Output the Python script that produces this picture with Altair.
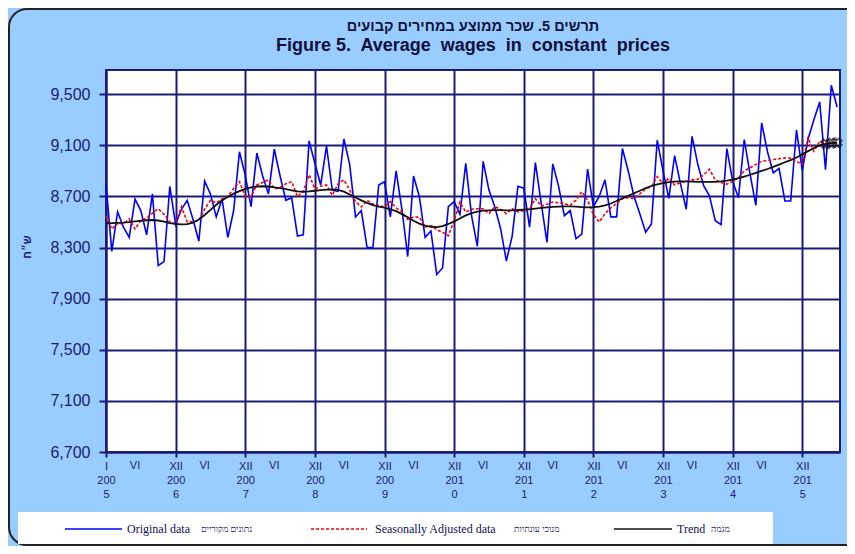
import json
import altair as alt
import pandas as pd

# ---------------- data ----------------
months = list(range(127))

original = [
    8800, 8270, 8580, 8460, 8380, 8680, 8590, 8400, 8720, 8160, 8190, 8780,
    8480, 8600, 8670, 8520, 8350, 8820, 8720, 8540, 8680, 8380, 8590, 9050,
    8865, 8620, 9040, 8860, 8720, 9070, 8860, 8670, 8690, 8390, 8400, 9135,
    8960, 8790, 9095, 8750, 8740, 9150, 8950, 8540, 8590, 8300, 8300, 8790,
    8815, 8540, 8900, 8600, 8230, 8860, 8700, 8380, 8430, 8090, 8140, 8620,
    8660, 8560, 8960, 8550, 8310, 8975, 8750, 8620, 8450, 8195, 8390, 8780,
    8765, 8460, 8965, 8650, 8340, 8955, 8780, 8550, 8590, 8370, 8405, 8915,
    8620, 8700, 8830, 8540, 8540, 9075, 8900, 8700, 8565, 8420, 8485, 9140,
    8900, 8685, 9020, 8800, 8600, 9170, 8950, 8785, 8705, 8510, 8480, 9075,
    8820, 8690, 9145, 8875, 8630, 9275, 9050, 8885, 8920, 8665, 8665, 9220,
    8905, 9150, 9300, 9440, 8910, 9570, 9400,
]

seasonal = [
    8545, 8445, 8490, 8485, 8525, 8445, 8512, 8530, 8570, 8605, 8560, 8500,
    8485, 8620, 8500, 8505, 8512, 8600, 8670, 8650, 8680, 8700, 8763, 8816,
    8700, 8700, 8790, 8810, 8830, 8760, 8770, 8800, 8816, 8700, 8740, 8870,
    8760, 8780, 8790, 8710, 8800, 8830, 8750, 8660, 8618, 8670, 8640, 8630,
    8618, 8660, 8610, 8580, 8520, 8540, 8538, 8460, 8472, 8440, 8420, 8392,
    8512, 8657, 8578, 8600, 8604, 8604, 8565, 8620, 8600, 8565, 8604, 8580,
    8590, 8604, 8684, 8625, 8640, 8657, 8650, 8644, 8631, 8671, 8737, 8671,
    8560, 8500, 8565, 8610, 8644, 8684, 8690, 8684, 8720, 8760, 8777, 8856,
    8800, 8843, 8790, 8808, 8816, 8830, 8834, 8870, 8912, 8830, 8810, 8796,
    8820, 8847, 8900, 8925, 8950, 8976, 8980, 8989, 8995, 9002, 9000, 8976,
    8950, 9157, 9054, 9131, 9118, 9120, 9118,
]

trend = [
    8490, 8492, 8494, 8496, 8500, 8505, 8510, 8514, 8516, 8512, 8503, 8492,
    8485, 8482, 8484, 8495, 8520, 8555, 8595, 8635, 8668, 8698, 8722, 8742,
    8760, 8772, 8778, 8780, 8778, 8772, 8765, 8757, 8748, 8740, 8737, 8740,
    8745, 8750, 8753, 8755, 8752, 8738, 8715, 8692, 8670, 8650, 8632, 8620,
    8612, 8600, 8585, 8562, 8538, 8510, 8488, 8472, 8463, 8460, 8468, 8485,
    8505, 8528, 8552, 8570, 8582, 8590, 8592, 8593, 8593, 8592, 8592, 8594,
    8597, 8600, 8605, 8610, 8614, 8618, 8620, 8622, 8622, 8620, 8617, 8615,
    8616, 8620, 8630, 8645, 8665, 8685, 8705, 8725, 8745, 8765, 8782, 8795,
    8805, 8812, 8816, 8818, 8818, 8817, 8815, 8814, 8814, 8815, 8818, 8824,
    8832, 8843, 8856, 8870, 8885, 8900, 8915, 8932, 8950, 8968, 8985, 9005,
    9030, 9055, 9080, 9100, 9112, 9118, 9120,
]

end_marker_months = [124, 125, 126]

y_ticks = [6700, 7100, 7500, 7900, 8300, 8700, 9100, 9500]

x_tick_pos = [0, 5, 12, 17, 24, 29, 36, 41, 48, 53, 60, 65, 72, 77,
              84, 89, 96, 101, 108, 113, 120]
x_tick_labels = ["I\n200\n5", "VI", "XII\n200\n6", "VI", "XII\n200\n7", "VI",
                 "XII\n200\n8", "VI", "XII\n200\n9", "VI", "XII\n201\n0", "VI",
                 "XII\n201\n1", "VI", "XII\n201\n2", "VI", "XII\n201\n3", "VI",
                 "XII\n201\n4", "VI", "XII\n201\n5"]

title_he = "תרשים 5. שכר ממוצע במחירים קבועים"
title_en = "Figure 5.\u00a0 Average\u00a0 wages\u00a0 in\u00a0 constant\u00a0 prices"
y_title = "ש״ח"
legend_en = ["Original data", "Seasonally Adjusted data", "Trend"]
legend_he = ["נתונים מקוריים", "מנוכי עונתיות", "מגמה"]

# ---------------- styling ----------------
NAVY = "#1c1c78"
TXT = "#202070"
BG = "#99CCFF"

df = pd.DataFrame({"month": months, "original": original,
                   "seasonal": seasonal, "trend": trend})
df_end = df[df["month"].isin(end_marker_months)]

major = [(p, l) for p, l in zip(x_tick_pos, x_tick_labels) if "\n" in l]
minor = pd.DataFrame([{"month": p, "lab": l}
                      for p, l in zip(x_tick_pos, x_tick_labels) if "\n" not in l])

label_expr = " : ".join(
    f"datum.value == {p} ? {json.dumps(lbl.split(chr(10)), ensure_ascii=False)}"
    for p, lbl in major
) + " : ''"

x_axis = alt.Axis(
    values=[p for p, _ in major], labelExpr=label_expr, title=None,
    grid=True, gridColor=NAVY, gridWidth=2,
    tickSize=5, tickWidth=2, tickColor=NAVY,
    domainColor=NAVY, domainWidth=2,
    labelFont="Liberation Sans", labelFontSize=11, labelColor=TXT,
    labelLineHeight=14, labelPadding=3, labelAngle=0,
    labelFlush=False, labelOverlap=False, labelBaseline="top",
)
y_axis = alt.Axis(
    values=y_ticks, format=",d", title=None,
    grid=True, gridColor=NAVY, gridWidth=2,
    tickSize=7, tickWidth=2, tickColor=NAVY,
    domainColor=NAVY, domainWidth=2,
    labelFont="Liberation Sans", labelFontSize=16, labelColor=TXT,
    labelPadding=9,
)
x_scale = alt.Scale(domain=[0, 126.5], nice=False, zero=False)
y_scale = alt.Scale(domain=[6700, 9690], nice=False, zero=False)


def xe(axis=alt.Undefined):
    return alt.X("month:Q", scale=x_scale, axis=axis)


def ye(field, axis=alt.Undefined):
    return alt.Y(f"{field}:Q", scale=y_scale, axis=axis)


one = alt.InlineData(values=[{"k": 0}])

# outer rounded frame
frame = alt.Chart(one).mark_rect(
    fillOpacity=0, stroke="#222222", strokeWidth=2, cornerRadius=18
).encode(x=alt.value(-97), x2=alt.value(760), y=alt.value(-61), y2=alt.value(475))

blue = alt.Chart(df).mark_line(color="#0000FF", strokeWidth=1.6).encode(
    x=xe(x_axis), y=ye("original", y_axis))
red = alt.Chart(df).mark_line(color="#FF0000", strokeWidth=1.6,
                              strokeDash=[3, 2]).encode(
    x=xe(), y=ye("seasonal"))
black = alt.Chart(df).mark_line(color="#111111", strokeWidth=1.8).encode(
    x=xe(), y=ye("trend"))
ends = alt.Chart(df_end).mark_point(
    shape="cross", angle=45, size=90, color="#111111", filled=False,
    strokeWidth=1.6).encode(x=xe(), y=ye("trend"))

minor_labels = alt.Chart(minor).mark_text(
    font="Liberation Sans", fontSize=11, color=TXT, align="center",
    baseline="top"
).encode(x=xe(), y=alt.value(390), text="lab:N")

t_he = alt.Chart(one).mark_text(
    text=title_he, font="Liberation Sans", fontSize=14.5, fontWeight="bold",
    color="#10103a", align="center", baseline="middle"
).encode(x=alt.value(367), y=alt.value(-43))
t_en = alt.Chart(one).mark_text(
    text=title_en, font="Liberation Sans", fontSize=18, fontWeight="bold",
    color="#10103a", align="center", baseline="middle"
).encode(x=alt.value(367), y=alt.value(-24))
t_y = alt.Chart(one).mark_text(
    text=y_title, font="Liberation Sans", fontSize=11, fontWeight="bold",
    color=TXT, angle=270, align="center", baseline="middle"
).encode(x=alt.value(-78), y=alt.value(177))

leg_box = alt.Chart(one).mark_rect(fill="white").encode(
    x=alt.value(-88), x2=alt.value(667), y=alt.value(442), y2=alt.value(474))

LY = 459
leg_layers = [leg_box]
specs = [
    (-41, 16, "#0000FF", None, 21, 95),
    (205, 261, "#FF0000", [3, 2], 269, 408),
    (508, 566, "#111111", None, 571, 605),
]
for k, (lx0, lx1, col, dash, tx_en, tx_he) in enumerate(specs):
    kw = dict(color=col, strokeWidth=1.5)
    if dash:
        kw["strokeDash"] = dash
    leg_layers.append(alt.Chart(one).mark_rule(**kw).encode(
        x=alt.value(lx0), x2=alt.value(lx1), y=alt.value(LY)))
    leg_layers.append(alt.Chart(one).mark_text(
        text=legend_en[k], font="Liberation Serif", fontSize=12,
        color="#10105a", align="left", baseline="middle"
    ).encode(x=alt.value(tx_en), y=alt.value(LY)))
    leg_layers.append(alt.Chart(one).mark_text(
        text=legend_he[k], font="Liberation Serif", fontSize=9,
        color="#10105a", align="left", baseline="middle"
    ).encode(x=alt.value(tx_he), y=alt.value(LY)))

chart = alt.layer(
    frame, blue, red, black, ends, minor_labels, t_he, t_en, t_y, *leg_layers
).properties(
    width=734, height=382,
    padding={"left": 98, "top": 62, "right": 7, "bottom": 94},
    autosize=alt.AutoSizeParams(type="none"),
    background=BG,
).configure_view(
    fill="white", stroke=NAVY, strokeWidth=2
)

chart.save("out.html", embed_options={"renderer": "svg", "actions": False})
